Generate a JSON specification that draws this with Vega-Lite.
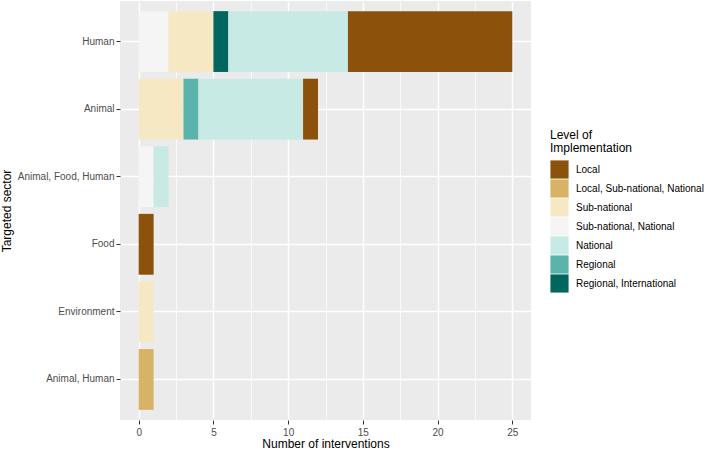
{
  "$schema": "https://vega.github.io/schema/vega-lite/v6.json",
  "width": 411,
  "height": 419,
  "autosize": {"type": "none"},
  "padding": {"left": 120, "top": 1, "right": 177, "bottom": 30},
  "background": "white",
  "config": {
    "font": "Liberation Sans",
    "view": {"fill": "#EBEBEB", "stroke": null},
    "axis": {
      "domain": false,
      "gridColor": "white",
      "gridWidth": 1.4,
      "tickColor": "#333333",
      "tickSize": 4,
      "labelColor": "#4D4D4D",
      "labelFontSize": 10,
      "labelFont": "Liberation Sans",
      "titleFont": "Liberation Sans",
      "titleFontSize": 12,
      "titleFontWeight": "normal",
      "titleColor": "black"
    }
  },
  "data": {
    "values": [
      {"sector": "Human", "level": "Sub-national, National", "count": 2, "ord": 1},
      {"sector": "Human", "level": "Sub-national", "count": 3, "ord": 2},
      {"sector": "Human", "level": "Regional, International", "count": 1, "ord": 3},
      {"sector": "Human", "level": "National", "count": 8, "ord": 5},
      {"sector": "Human", "level": "Local", "count": 11, "ord": 6},
      {"sector": "Animal", "level": "Sub-national", "count": 3, "ord": 2},
      {"sector": "Animal", "level": "Regional", "count": 1, "ord": 4},
      {"sector": "Animal", "level": "National", "count": 7, "ord": 5},
      {"sector": "Animal", "level": "Local", "count": 1, "ord": 6},
      {"sector": "Animal, Food, Human", "level": "Sub-national, National", "count": 1, "ord": 1},
      {"sector": "Animal, Food, Human", "level": "National", "count": 1, "ord": 5},
      {"sector": "Food", "level": "Local", "count": 1, "ord": 6},
      {"sector": "Environment", "level": "Sub-national", "count": 1, "ord": 2},
      {"sector": "Animal, Human", "level": "Local, Sub-national, National", "count": 1, "ord": 0}
    ]
  },
  "resolve": {"axis": {"x": "independent"}},
  "layer": [
    {
      "mark": {"type": "bar", "opacity": 0},
      "encoding": {
        "y": {"field": "sector", "type": "nominal",
              "scale": {"domain": ["Human", "Animal", "Animal, Food, Human", "Food", "Environment", "Animal, Human"], "paddingInner": 0.1, "paddingOuter": 0.15},
              "axis": {"title": "Targeted sector", "grid": true, "bandPosition": 0.5, "labelPadding": 2, "titlePadding": 4}},
        "x": {"field": "count", "type": "quantitative", "stack": "zero",
              "scale": {"domain": [-1.25, 26.25], "nice": false, "zero": false},
              "axis": {"orient": "bottom", "values": [2.5, 7.5, 12.5, 17.5, 22.5], "grid": true, "gridWidth": 0.7, "labels": false, "ticks": false, "domain": false, "title": null}},
        "order": {"field": "ord", "type": "quantitative"}
      }
    },
    {
      "mark": {"type": "bar"},
      "encoding": {
        "y": {"field": "sector", "type": "nominal",
              "scale": {"domain": ["Human", "Animal", "Animal, Food, Human", "Food", "Environment", "Animal, Human"], "paddingInner": 0.1, "paddingOuter": 0.15},
              "axis": {"title": "Targeted sector", "grid": true, "bandPosition": 0.5, "labelPadding": 2, "titlePadding": 4}},
        "x": {"field": "count", "type": "quantitative", "stack": "zero",
              "scale": {"domain": [-1.25, 26.25], "nice": false, "zero": false},
              "axis": {"orient": "bottom", "values": [0, 5, 10, 15, 20, 25], "grid": true, "title": "Number of interventions", "labelPadding": 3, "titlePadding": 1}},
        "order": {"field": "ord", "type": "quantitative"},
        "color": {
          "field": "level", "type": "nominal",
          "scale": {
            "domain": ["Local", "Local, Sub-national, National", "Sub-national", "Sub-national, National", "National", "Regional", "Regional, International"],
            "range": ["#8C510A", "#D8B365", "#F6E8C3", "#F5F5F5", "#C7EAE5", "#5AB4AC", "#01665E"]
          },
          "legend": {
            "title": ["Level of", "Implementation"],
            "orient": "none",
            "legendX": 430,
            "legendY": 129,
            "titleFontSize": 12,
            "titleFontWeight": "normal",
            "titleColor": "black",
            "titleLineHeight": 13,
            "titlePadding": 5,
            "labelFontSize": 10,
            "labelColor": "black",
            "labelOffset": 7,
            "symbolType": "square",
            "symbolSize": 330,
            "symbolStrokeWidth": 0,
            "symbolOpacity": 1,
            "rowPadding": 0
          }
        }
      }
    }
  ]
}
